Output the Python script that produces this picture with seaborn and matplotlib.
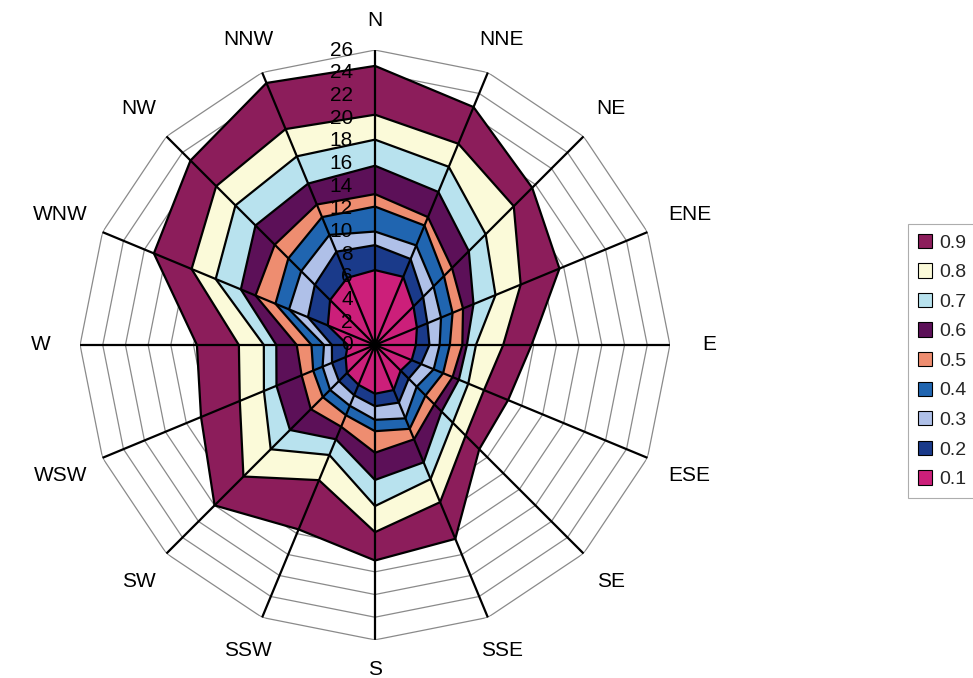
import numpy as np
import matplotlib
matplotlib.use('Agg')
import matplotlib.pyplot as plt
import seaborn as sns
from matplotlib.patches import Patch
from matplotlib.transforms import offset_copy

# ---- data -------------------------------------------------------------
directions = ['N', 'NNE', 'NE', 'ENE', 'E', 'ESE', 'SE', 'SSE',
              'S', 'SSW', 'SW', 'WSW', 'W', 'WNW', 'NW', 'NNW']
levels = ['0.9', '0.8', '0.7', '0.6', '0.5', '0.4', '0.3', '0.2', '0.1']
r_ticks = list(range(0, 27, 2))

p09 = [24.6, 22.7, 19.6, 17.6, 13.8, 12.7, 13.0, 18.5, 19.0, 17.6, 20.0, 16.6, 15.7, 21.1, 23.0, 25.0]
p08 = [20.3, 19.2, 17.3, 13.9, 11.3, 10.4, 11.3, 15.0, 16.5, 12.9, 16.4, 12.9, 12.0, 17.5, 19.8, 20.6]
p07 = [18.1, 17.0, 13.8, 11.5, 8.9, 8.9, 9.7, 12.8, 14.2, 10.5, 13.0, 10.6, 9.8, 15.2, 17.4, 18.0]
p06 = [15.8, 14.6, 11.7, 9.4, 8.1, 8.0, 8.3, 11.2, 11.9, 9.0, 10.6, 9.4, 8.7, 12.8, 14.9, 15.4]
p05 = [13.3, 12.2, 9.6, 8.4, 7.7, 7.4, 7.4, 9.0, 9.5, 7.8, 8.0, 7.0, 6.9, 11.4, 12.5, 13.4]
p04 = [12.2, 11.4, 8.6, 7.4, 6.6, 6.5, 6.3, 8.0, 7.6, 6.7, 6.5, 5.9, 5.6, 9.5, 10.8, 12.2]
p03 = [10.0, 9.5, 7.3, 6.3, 5.7, 5.6, 5.2, 7.0, 6.6, 5.8, 5.6, 5.0, 4.5, 8.2, 9.2, 10.5]
p02 = [8.8, 8.2, 6.0, 5.0, 4.8, 4.4, 4.2, 5.5, 5.4, 4.8, 4.5, 4.1, 3.8, 6.4, 7.5, 8.9]
p01 = [6.6, 6.5, 4.8, 4.0, 3.6, 3.5, 3.2, 4.3, 4.3, 3.8, 3.5, 2.8, 2.4, 4.5, 5.6, 6.4]
series = [p09, p08, p07, p06, p05, p04, p03, p02, p01]

level_colors = ['#8C1D5B', '#FBFAD9', '#B8E2EE', '#5C1058', '#EE8D70',
                '#2065B0', '#AFC0E8', '#1A3A8A', '#CC1F7A']

# ---- style ------------------------------------------------------------
sns.set_theme(style='white')
plt.rcParams['font.family'] = ['Liberation Sans', 'DejaVu Sans']
palette = sns.color_palette(level_colors)

fig = plt.figure(figsize=(9.73, 6.78), dpi=100)
fig.patch.set_facecolor('white')
ax = fig.add_axes([0.0822, 0.0562, 0.6064, 0.870], projection='polar')
ax.set_theta_zero_location('N')
ax.set_theta_direction(-1)
ax.set_axis_off()

n = len(directions)
theta = np.deg2rad(np.arange(n) * 360.0 / n)
tc = np.append(theta, theta[0])

# polygonal grid
for r in r_ticks[1:]:
    ax.plot(tc, [r] * (n + 1), color='#8a8a8a', lw=0.9, zorder=1)

# filled levels
for vals, col in zip(series, palette):
    v = np.append(vals, vals[0])
    ax.fill(tc, v, color=col, lw=0, zorder=2)
    sns.lineplot(x=tc, y=v, ax=ax, sort=False, estimator=None,
                 color='black', lw=1.6, zorder=3, legend=False)

# spokes
for t in theta:
    ax.plot([t, t], [0, r_ticks[-1]], color='black', lw=1.6, zorder=4)

ax.set_ylim(0, r_ticks[-1])

# radial tick labels
tr = offset_copy(ax.transData, fig=fig, x=-22, y=0, units='dots')
for r in r_ticks:
    ax.text(0, r, str(r), transform=tr, ha='right', va='center',
            fontsize=15, color='black', zorder=6)

# direction labels
for t, d in zip(theta, directions):
    rl = 28.6 + abs(np.sin(t)) * (0.5 + 0.35 * len(d))
    ax.text(t, rl, d, ha='center', va='center', fontsize=15, color='black')

# legend
handles = [Patch(facecolor=c, edgecolor='black', lw=0.8) for c in palette]
leg = fig.legend(handles, levels, loc='upper left',
                 bbox_to_anchor=(908 / 973, 1 - 224 / 678),
                 frameon=True, fancybox=False, edgecolor='#999999',
                 handlelength=0.75, handleheight=0.75, handletextpad=0.35,
                 labelspacing=0.6, fontsize=14, borderpad=0.5,
                 borderaxespad=0)
leg.get_frame().set_linewidth(0.8)

fig.savefig('out.png', dpi=100, facecolor='white')
